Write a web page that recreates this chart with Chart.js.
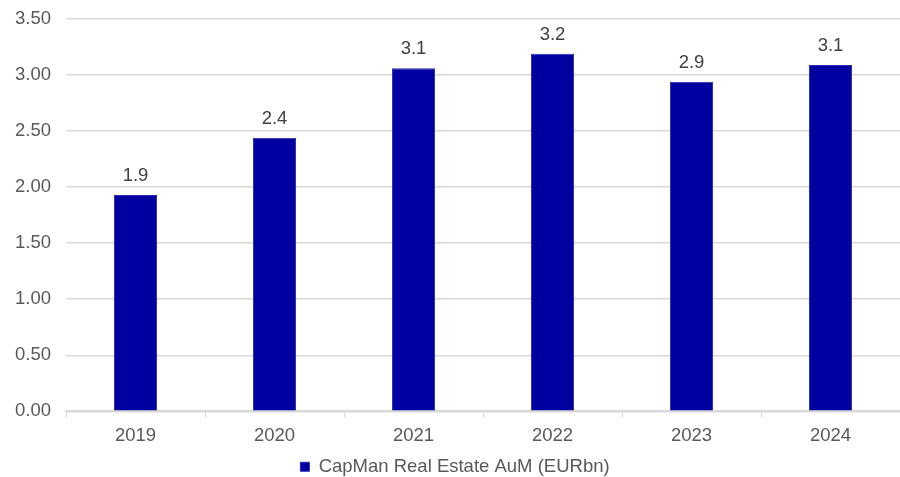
<!DOCTYPE html>
<html>
<head>
<meta charset="utf-8">
<script src="https://cdn.jsdelivr.net/npm/chart.js@4/dist/chart.umd.min.js"></script>
<style>
  html, body { margin: 0; padding: 0; background: #fff; }
  #wrap { width: 900px; height: 477px; position: relative; }
</style>
</head>
<body>
<div id="wrap"><canvas id="aum"></canvas></div>
<script>
// AuM by year, EUR bn
const years = ['2019', '2020', '2021', '2022', '2023', '2024'];
const aumValues = [1.93, 2.44, 3.06, 3.19, 2.94, 3.09];
const seriesName = 'CapMan Real Estate AuM (EURbn)';

const FONT = "'Liberation Sans', Arial, sans-serif";
const TEXT = '#595959';
const GRID = '#d9d9d9';
const BAR = '#0000a0';
const FS = 18.5;

// value labels above each bar, one decimal
const barLabels = {
  id: 'barLabels',
  afterDatasetsDraw(chart) {
    const { ctx } = chart;
    const meta = chart.getDatasetMeta(0);
    ctx.save();
    ctx.font = FS + 'px ' + FONT;
    ctx.fillStyle = '#404040';
    ctx.textAlign = 'center';
    ctx.textBaseline = 'alphabetic';
    meta.data.forEach((bar, i) => {
      ctx.fillText(aumValues[i].toFixed(1), bar.x, bar.y - 14);
    });
    ctx.restore();
  }
};

new Chart(document.getElementById('aum'), {
  type: 'bar',
  data: {
    labels: years,
    datasets: [{
      label: seriesName,
      data: aumValues,
      backgroundColor: BAR,
      borderColor: '#2a2ab4', borderWidth: 1,
      categoryPercentage: 1, barPercentage: 0.31
    }]
  },
  options: {
    responsive: true, maintainAspectRatio: false, animation: false,
    layout: { padding: { top: 19, right: 0, left: 10, bottom: -9 } },
    plugins: {
      tooltip: { enabled: false },
      legend: {
        position: 'bottom',
        labels: { color: TEXT, font: { family: FONT, size: FS }, boxWidth: 9, boxHeight: 9, padding: 2 }
      }
    },
    scales: {
      x: {
        grid: { offset: true, drawOnChartArea: false, drawTicks: true, tickLength: 6, color: GRID },
        border: { color: GRID, width: 2 },
        ticks: { color: TEXT, font: { family: FONT, size: FS }, padding: 8 }
      },
      y: {
        min: 0, max: 3.5,
        // invisible tick marks keep the labels clear of the plot without padding the top
        grid: { color: GRID, drawTicks: true, tickLength: 10, tickColor: 'rgba(0,0,0,0)', lineWidth: 1.5 },
        border: { display: false },
        ticks: { stepSize: 0.5, color: TEXT, font: { family: FONT, size: FS }, padding: 5,
          callback: v => v.toFixed(2) }
      }
    }
  },
  plugins: [barLabels]
});
</script>
</body>
</html>
